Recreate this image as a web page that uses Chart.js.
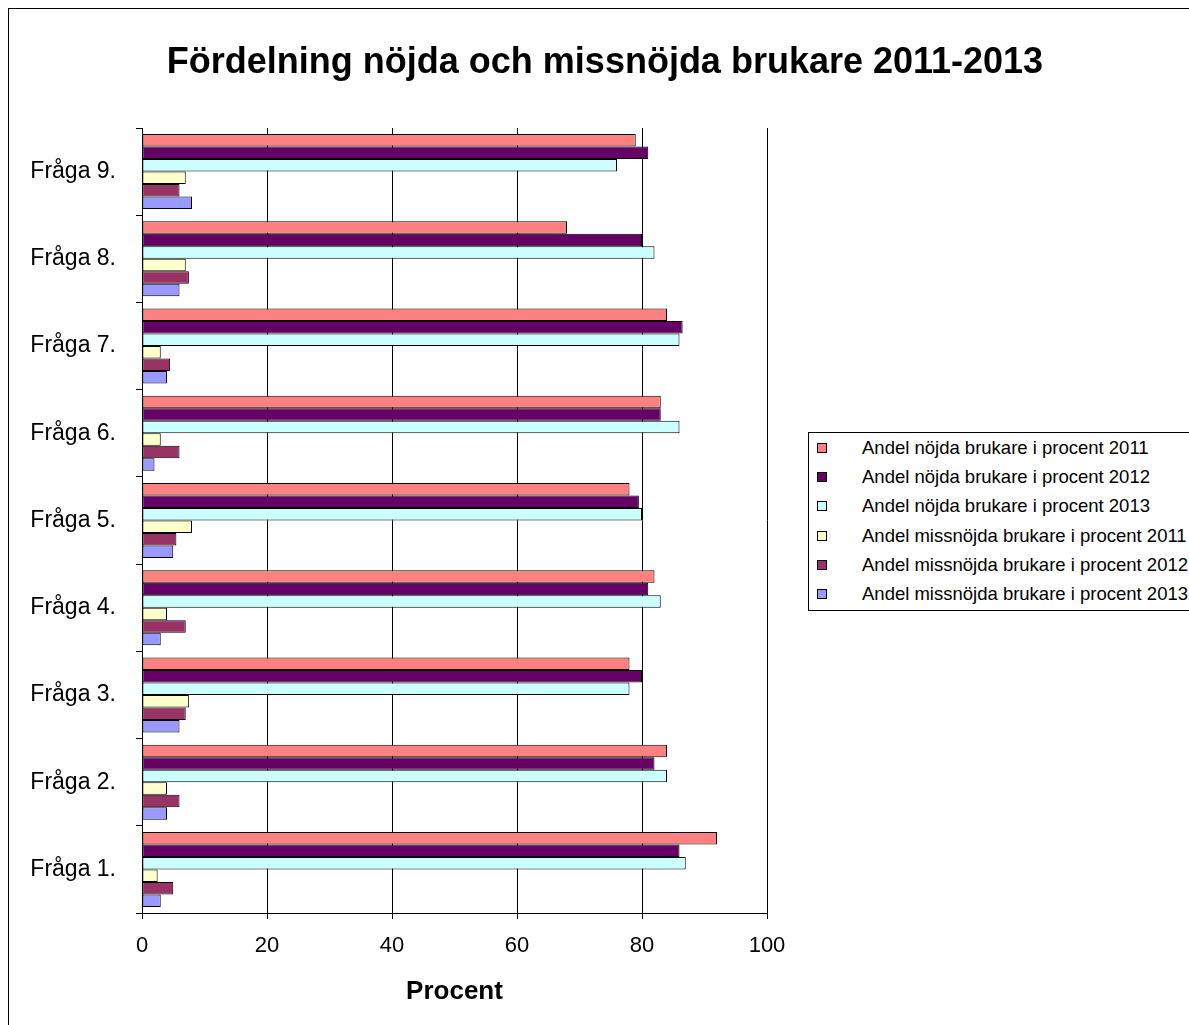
<!DOCTYPE html>
<html>
<head>
<meta charset="utf-8">
<script src="https://cdn.jsdelivr.net/npm/chart.js@4.4.0/dist/chart.umd.min.js"></script>
<style>
    html, body { margin: 0; padding: 0; background: #fff; overflow: hidden; }
    #frame { position: absolute; left: 8px; top: 8px; width: 1200px; height: 1040px; border: 1px solid #000; }
    #wrap { position: absolute; left: 0; top: 0; width: 1189px; height: 1025px; }
    #legend {
        position: absolute; left: 808px; top: 432px; width: 400px; height: 177px;
        border: 1px solid #000; background: #fff;
        font-family: 'Liberation Sans', Arial, sans-serif; font-size: 18.5px; color: #000;
    }
    .item { position: absolute; left: 0; height: 20px; line-height: 20px; white-space: nowrap; }
    .box { position: absolute; left: 8px; top: 5px; width: 8px; height: 8px; border: 1px solid #000; }
    .txt { position: absolute; left: 53px; top: 0; }
</style>
</head>
<body>
<div id="frame"></div>
<div id="wrap"><canvas id="chart" width="1189" height="1025"></canvas></div>
<div id="legend"></div>
<script>
const categories = ['Fråga 1.', 'Fråga 2.', 'Fråga 3.', 'Fråga 4.', 'Fråga 5.', 'Fråga 6.', 'Fråga 7.', 'Fråga 8.', 'Fråga 9.'];
const seriesNames = [
    'Andel nöjda brukare i procent 2011',
    'Andel nöjda brukare i procent 2012',
    'Andel nöjda brukare i procent 2013',
    'Andel missnöjda brukare i procent 2011',
    'Andel missnöjda brukare i procent 2012',
    'Andel missnöjda brukare i procent 2013',
];
const nojda2011 = [92, 84, 78, 82, 78, 83, 84, 68, 79];
const nojda2012 = [86, 82, 80, 81, 79.5, 83, 86.5, 80, 81];
const nojda2013 = [87, 84, 78, 83, 80, 86, 86, 82, 76];
const missnojda2011 = [2.5, 4, 7.5, 4, 8, 3, 3, 7, 7];
const missnojda2012 = [5, 6, 7, 7, 5.5, 6, 4.5, 7.5, 6];
const missnojda2013 = [3, 4, 6, 3, 5, 2, 4, 6, 8];
const xTicks = [0, 20, 40, 60, 80, 100];

const colors = ['#FF8080', '#660066', '#CCFFFF', '#FFFFCC', '#993366', '#9999FF'];
const FONT = "'Liberation Sans', Arial, sans-serif";

Chart.defaults.font.family = FONT;
Chart.defaults.color = '#000';

// top-to-bottom order in the picture is Fråga 9 .. Fråga 1
const topDown = arr => arr.slice().reverse();
const allSeries = [nojda2011, nojda2012, nojda2013, missnojda2011, missnojda2012, missnojda2013];

const titlePlugin = {
    id: 'bigTitle',
    afterDraw(chart) {
        const ctx = chart.ctx;
        ctx.save();
        ctx.font = `bold 36px ${FONT}`;
        ctx.fillStyle = '#000';
        ctx.textAlign = 'center';
        ctx.textBaseline = 'alphabetic';
        ctx.fillText('Fördelning nöjda och missnöjda brukare 2011-2013', 605, 73);
        ctx.restore();
    },
};

const chart = new Chart(document.getElementById('chart'), {
    type: 'bar',
    data: {
        labels: topDown(categories),
        datasets: allSeries.map((values, i) => ({
            label: seriesNames[i],
            data: topDown(values),
            backgroundColor: colors[i],
            borderColor: '#000',
            borderWidth: 1,
            borderSkipped: false,
            categoryPercentage: 0.86,
            barPercentage: 1.0,
        })),
    },
    options: {
        indexAxis: 'y',
        responsive: false,
        animation: false,
        layout: { padding: { top: 128, right: 422, bottom: 14, left: 0 } },
        plugins: {
            legend: { display: false },
            title: { display: false },
            tooltip: { enabled: false },
        },
        scales: {
            x: {
                min: 0,
                max: 100,
                afterBuildTicks: scale => { scale.ticks = xTicks.map(v => ({ value: v })); },
                afterFit: scale => { scale.height = 98; },
                grid: { color: '#000', lineWidth: 1, tickLength: 6, drawTicks: true },
                border: { color: '#000', width: 1 },
                ticks: { font: { size: 22 }, padding: 14, maxRotation: 0 },
                title: { display: true, text: 'Procent', font: { size: 26, weight: 'bold' }, padding: { top: 4, bottom: 4 } },
            },
            y: {
                afterFit: scale => { scale.width = 142; },
                grid: { drawOnChartArea: false, drawTicks: true, tickLength: 6, color: '#000', offset: true },
                border: { color: '#000', width: 1 },
                ticks: { font: { size: 23 }, padding: 20 },
            },
        },
    },
    plugins: [titlePlugin],
});

const legend = document.getElementById('legend');
chart.data.datasets.forEach((ds, i) => {
    const item = document.createElement('div');
    item.className = 'item';
    item.style.top = (5 + i * 29.2) + 'px';
    const box = document.createElement('div');
    box.className = 'box';
    box.style.background = ds.backgroundColor;
    const txt = document.createElement('span');
    txt.className = 'txt';
    txt.textContent = ds.label;
    item.append(box, txt);
    legend.append(item);
});
</script>
</body>
</html>
